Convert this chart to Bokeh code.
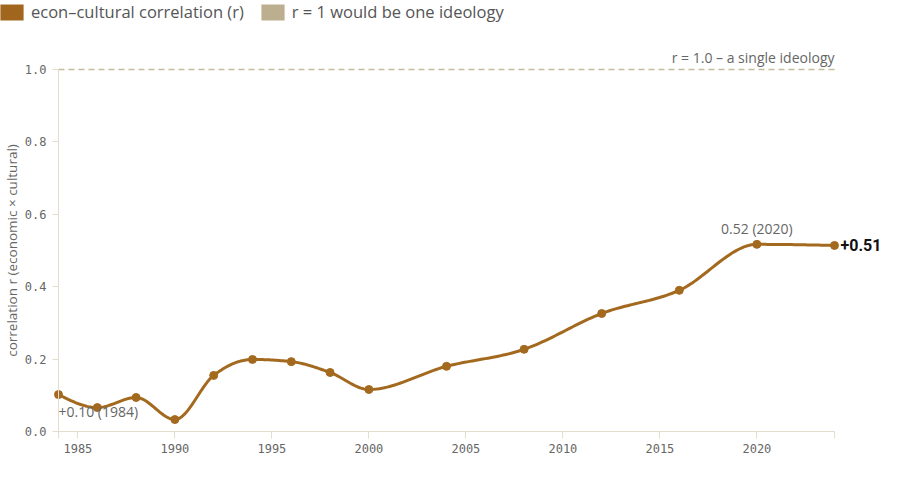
import numpy as np
from bokeh.plotting import figure
from bokeh.models import (Legend, LegendItem, Label, FixedTicker, Range1d, CustomJSTickFormatter)
from bokeh.embed import file_html
from bokeh.resources import INLINE

# ---- data ----
years = [1984, 1986, 1988, 1990, 1992, 1994, 1996, 1998, 2000, 2004, 2008, 2012, 2016, 2020, 2024]
corr = [0.102, 0.066, 0.094, 0.033, 0.155, 0.199, 0.193, 0.163, 0.116, 0.180, 0.227, 0.326, 0.390, 0.517, 0.514]
x_ticks = [1985, 1990, 1995, 2000, 2005, 2010, 2015, 2020]
y_ticks = [0.0, 0.2, 0.4, 0.6, 0.8, 1.0]
series_label = "econ\u2013cultural correlation (r)"
ref_label = "r = 1 would be one ideology"
ref_value = 1.0
y_min, y_max = 0.0, 1.0

# ---- layout (pixels) ----
W, H = 900, 478
PX_LEFT, PX_RIGHT = 58, 834     # where first/last year sit
PX_TOP, PX_BOTTOM = 69, 431     # where y_max / y_min sit

LINE_C = "#a36a1f"
SW1_C = "#a0661e"
SW2_C = "#bcaf8f"
REF_C = "#c6bb9c"
TXT_C = "#666666"
AX_C = "#e2ddcd"
FONT = "Open Sans"
MONO = "DejaVu Sans Mono"


def monotone_curve(xs, ys, n=30):
    xs = np.asarray(xs, float)
    ys = np.asarray(ys, float)
    N = len(xs)
    t = np.zeros(N)
    for i in range(1, N - 1):
        h0 = xs[i] - xs[i - 1]
        h1 = xs[i + 1] - xs[i]
        s0 = (ys[i] - ys[i - 1]) / h0
        s1 = (ys[i + 1] - ys[i]) / h1
        p_ = (s0 * h1 + s1 * h0) / (h0 + h1)
        t[i] = (np.sign(s0) + np.sign(s1)) * min(abs(s0), abs(s1), 0.5 * abs(p_))
    h = xs[1] - xs[0]
    t[0] = (3 * (ys[1] - ys[0]) / h - t[1]) / 2
    h = xs[-1] - xs[-2]
    t[-1] = (3 * (ys[-1] - ys[-2]) / h - t[-2]) / 2
    ox, oy = [], []
    for i in range(N - 1):
        h = xs[i + 1] - xs[i]
        u = np.linspace(0, 1, n, endpoint=(i == N - 2))
        h00 = 2 * u**3 - 3 * u**2 + 1
        h10 = u**3 - 2 * u**2 + u
        h01 = -2 * u**3 + 3 * u**2
        h11 = u**3 - u**2
        ox.extend(xs[i] + u * h)
        oy.extend(h00 * ys[i] + h10 * h * t[i] + h01 * ys[i + 1] + h11 * h * t[i + 1])
    return ox, oy


cx, cy = monotone_curve(years, corr)

# ranges chosen so the frame covers the whole canvas
xpp = (years[-1] - years[0]) / (PX_RIGHT - PX_LEFT)   # data per px
ypp = (y_max - y_min) / (PX_BOTTOM - PX_TOP)
x_start = years[0] - PX_LEFT * xpp
x_end = x_start + W * xpp
y_end = y_max + PX_TOP * ypp
y_start = y_end - H * ypp

p = figure(width=W, height=H, output_backend="svg", toolbar_location=None,
           x_range=Range1d(x_start, x_end), y_range=Range1d(y_start, y_end),
           min_border=0)
p.title.visible = False
p.outline_line_color = None
p.xgrid.visible = False
p.ygrid.visible = False
p.background_fill_color = "white"
p.border_fill_color = "white"

# x axis
xa = p.xaxis[0]
xa.fixed_location = y_min
xa.ticker = FixedTicker(ticks=x_ticks, minor_ticks=[years[0], years[-1]])
xa.bounds = (years[0], years[-1])
xa.axis_line_color = AX_C
xa.major_tick_line_color = AX_C
xa.minor_tick_line_color = AX_C
xa.major_tick_out = 7
xa.major_tick_in = 0
xa.minor_tick_out = 7
xa.minor_tick_in = 0
xa.major_label_text_font = MONO
xa.major_label_text_font_size = "12px"
xa.major_label_text_color = TXT_C
xa.major_label_standoff = 5

# y axis
ya = p.yaxis[0]
ya.fixed_location = years[0]
ya.ticker = FixedTicker(ticks=y_ticks, minor_ticks=[])
ya.bounds = (y_min, y_max)
ya.axis_line_color = AX_C
ya.major_tick_line_color = AX_C
ya.major_tick_out = 6
ya.major_tick_in = 0
ya.minor_tick_line_color = None
ya.major_label_text_font = MONO
ya.major_label_text_font_size = "12px"
ya.major_label_text_color = TXT_C
ya.major_label_standoff = 6
ya.formatter = CustomJSTickFormatter(code="return tick.toFixed(1);")

p.add_layout(Label(x=years[0], y=(y_min + y_max) / 2, x_offset=-47,
                   text="correlation r (economic \u00d7 cultural)",
                   angle=np.pi / 2, text_align="center", text_baseline="middle",
                   text_font=FONT, text_font_size="13.5px", text_color=TXT_C))

# reference line
p.line([years[0], years[-1]], [ref_value, ref_value], line_color=REF_C,
       line_width=1.5, line_dash="6 4")
p.add_layout(Label(x=years[-1], y=ref_value, y_offset=12, text="r = 1.0 \u2013 a single ideology",
                   text_align="right", text_baseline="middle",
                   text_font=FONT, text_font_size="14px", text_color=TXT_C))

# series
p.line(cx, cy, line_color=LINE_C, line_width=3, line_join="round", line_cap="round")
p.scatter(years, corr, size=8, fill_color=LINE_C, line_color=LINE_C)

# annotations
p.add_layout(Label(x=years[0], y=corr[0], y_offset=-17, x_offset=0,
                   text=f"+{corr[0]:.2f} ({years[0]})",
                   text_align="left", text_baseline="middle",
                   text_font=FONT, text_font_size="14px", text_color=TXT_C))
imax = int(np.argmax(corr))
p.add_layout(Label(x=years[imax], y=corr[imax], y_offset=16,
                   text=f"{corr[imax]:.2f} ({years[imax]})",
                   text_align="center", text_baseline="middle",
                   text_font=FONT, text_font_size="14px", text_color=TXT_C))
p.add_layout(Label(x=years[-1], y=corr[-1], x_offset=6,
                   text=f"+{corr[-1]:.2f}",
                   text_align="left", text_baseline="middle",
                   text_font="Roboto", text_font_size="16px", text_font_style="bold",
                   text_color="#111111"))

# legend swatches (nothing drawn in the plot itself)
q1 = p.quad(left=[np.nan], right=[np.nan], top=[np.nan], bottom=[np.nan],
            fill_color=SW1_C, line_color=None)
q2 = p.quad(left=[np.nan], right=[np.nan], top=[np.nan], bottom=[np.nan],
            fill_color=SW2_C, line_color=None)
legend = Legend(items=[LegendItem(label=series_label, renderers=[q1]),
                       LegendItem(label=ref_label, renderers=[q2])],
                orientation="horizontal", location=(-3, H - 3 - 20),
                padding=0, margin=0, spacing=14, label_standoff=5,
                glyph_width=29, glyph_height=20,
                border_line_color=None, background_fill_alpha=0,
                label_text_font=FONT, label_text_font_size="16.5px",
                label_text_color="#555555", label_height=20)
p.add_layout(legend, "center")

open("out.html", "w").write(file_html(p, INLINE))
